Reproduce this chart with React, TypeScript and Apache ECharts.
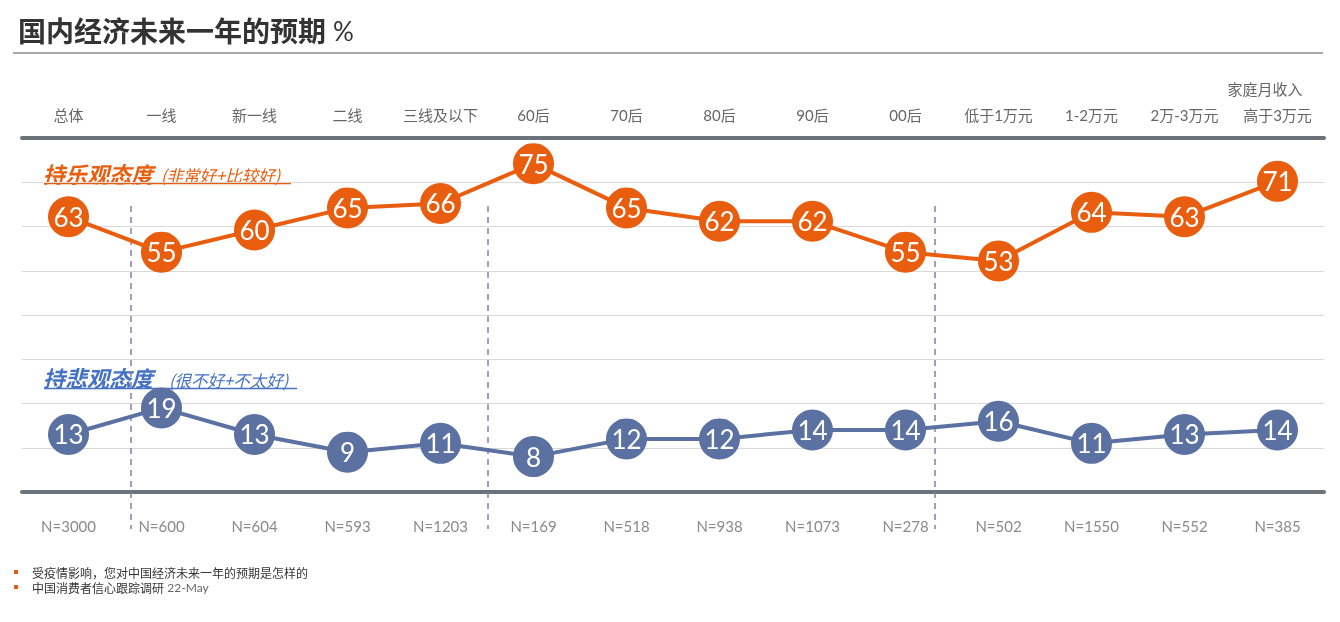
import React, { useEffect, useRef } from "react";
import * as echarts from "echarts";

const categories = ["总体", "一线", "新一线", "二线", "三线及以下", "60后", "70后", "80后", "90后", "00后", "低于1万元", "1-2万元", "2万-3万元", "高于3万元"];
const sampleSizes = ["N=3000", "N=600", "N=604", "N=593", "N=1203", "N=169", "N=518", "N=938", "N=1073", "N=278", "N=502", "N=1550", "N=552", "N=385"];
const optimistic = [63, 55, 60, 65, 66, 75, 65, 62, 62, 55, 53, 64, 63, 71];
const pessimistic = [13, 19, 13, 9, 11, 8, 12, 12, 14, 14, 16, 11, 13, 14];
const yTicks = { min: 0, max: 80, interval: 10 };

const ORANGE = "#E85D0E";
const BLUE = "#5B71A1";
const FONT = "Lato, 'Noto Sans CJK SC', sans-serif";
const CJK = "'Noto Sans CJK SC', sans-serif";

export default function App() {
  const ref = useRef<HTMLDivElement>(null);
  useEffect(() => {
    if (!ref.current) return;
    const chart = echarts.init(ref.current, undefined, { renderer: "svg" });
    const dash = (x: number) => ({
      type: "line",
      shape: { x1: x, y1: 206, x2: x, y2: 529 },
      style: { stroke: "#8B7BA8", lineWidth: 1.5, lineDash: [6, 5] },
      z: 1,
    });
    const seriesBase = (name: string, data: number[], color: string, yAxisIndex: number) => ({
      name,
      type: "line",
      data,
      xAxisIndex: 0,
      yAxisIndex,
      symbol: "circle",
      symbolSize: 41,
      lineStyle: { color, width: 4 },
      itemStyle: { color },
      z: 5,
      label: {
        show: true,
        position: "inside",
        color: "#fff",
        fontSize: 26,
        fontFamily: FONT,
      },
    });
    chart.setOption({
      animation: false,
      grid: { left: 22, right: 16, top: 138, bottom: 130 },
      xAxis: [
        {
          type: "category",
          position: "top",
          data: categories,
          axisTick: { show: false },
          axisLine: { onZero: false, lineStyle: { color: "#6B747B", width: 4 } },
          axisLabel: { color: "#666", fontSize: 15, fontFamily: FONT, margin: 16, interval: 0 },
        },
        {
          type: "category",
          position: "bottom",
          data: sampleSizes,
          axisTick: { show: false },
          axisLine: { onZero: false, lineStyle: { color: "#6B747B", width: 4 } },
          axisLabel: { color: "#8a8a8a", fontSize: 15, fontFamily: FONT, margin: 26, interval: 0 },
        },
      ],
      yAxis: [
        {
          type: "value",
          min: yTicks.min,
          max: yTicks.max,
          interval: yTicks.interval,
          axisLabel: { show: false },
          axisLine: { show: false },
          axisTick: { show: false },
          splitLine: { lineStyle: { color: "#D9D9D9", width: 1 } },
        },
        {
          type: "value",
          min: 0.8,
          max: 80.8,
          show: false,
          splitLine: { show: false },
        },
      ],
      series: [
        seriesBase("持乐观态度", optimistic, ORANGE, 1),
        seriesBase("持悲观态度", pessimistic, BLUE, 0),
      ],
      graphic: [
        {
          type: "text",
          x: 18,
          y: 30,
          style: { text: "国内经济未来一年的预期", fontSize: 28, fontWeight: "bold", fill: "#333", fontFamily: CJK, verticalAlign: "middle" },
        },
        {
          type: "text",
          x: 333,
          y: 31,
          style: { text: "%", fontSize: 26, fill: "#333", fontFamily: FONT, verticalAlign: "middle" },
        },
        { type: "line", shape: { x1: 13, y1: 53, x2: 1323, y2: 53 }, style: { stroke: "#555", lineWidth: 1 } },
        {
          type: "text",
          x: 1265,
          y: 89,
          style: { text: "家庭月收入", fontSize: 15, fill: "#666", fontFamily: FONT, align: "center", verticalAlign: "middle" },
        },
        dash(131),
        dash(488),
        dash(935),
        {
          type: "text",
          x: 43,
          y: 173,
          style: { text: "持乐观态度", fontSize: 22, fontWeight: "bold", fontStyle: "italic", fill: ORANGE, fontFamily: CJK, verticalAlign: "middle" },
        },
        {
          type: "text",
          x: 161,
          y: 175,
          style: { text: "(非常好+比较好)", fontSize: 16.5, fontStyle: "italic", fill: ORANGE, fontFamily: CJK, verticalAlign: "middle" },
        },
        { type: "line", shape: { x1: 44, y1: 183.5, x2: 291, y2: 183.5 }, style: { stroke: ORANGE, lineWidth: 1.5 } },
        {
          type: "text",
          x: 43,
          y: 377,
          style: { text: "持悲观态度", fontSize: 22, fontWeight: "bold", fontStyle: "italic", fill: "#4472C4", fontFamily: CJK, verticalAlign: "middle" },
        },
        {
          type: "text",
          x: 169,
          y: 380,
          style: { text: "(很不好+不太好)", fontSize: 16.5, fontStyle: "italic", fill: "#4472C4", fontFamily: CJK, verticalAlign: "middle" },
        },
        { type: "line", shape: { x1: 44, y1: 388.5, x2: 297, y2: 388.5 }, style: { stroke: "#4472C4", lineWidth: 1.5 } },
        { type: "rect", shape: { x: 14, y: 570, width: 4, height: 4 }, style: { fill: ORANGE } },
        { type: "rect", shape: { x: 14, y: 585, width: 4, height: 4 }, style: { fill: ORANGE } },
        {
          type: "text",
          x: 32,
          y: 572,
          style: { text: "受疫情影响，您对中国经济未来一年的预期是怎样的", fontSize: 12, fill: "#333", fontFamily: CJK, verticalAlign: "middle" },
        },
        {
          type: "text",
          x: 32,
          y: 587,
          style: {
            text: "{a|中国消费者信心跟踪调研} {b|22-May}",
            verticalAlign: "middle",
            rich: {
              a: { fontSize: 12, fill: "#333", color: "#333", fontFamily: CJK },
              b: { fontSize: 12, fill: "#666", color: "#666", fontFamily: FONT },
            },
          },
        },
      ],
    });
    return () => chart.dispose();
  }, []);
  return <div ref={ref} style={{ position: "fixed", left: 0, top: 0, width: 1340, height: 622 }} />;
}
